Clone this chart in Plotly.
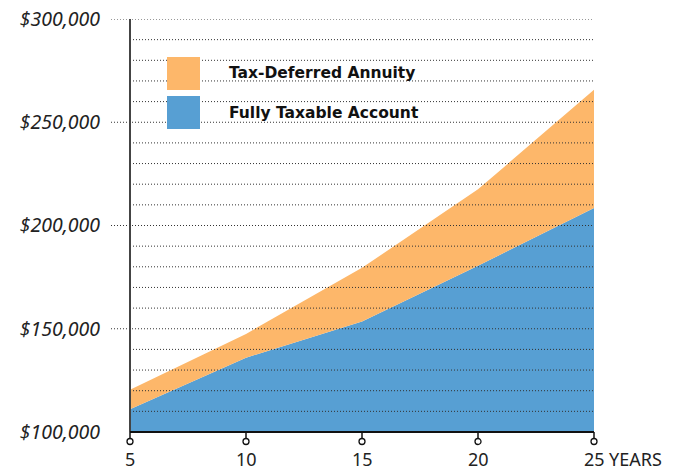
import numpy as np
import plotly.graph_objects as go

years = [5, 10, 15, 20, 25]
taxable = [111000, 136000, 153500, 180500, 208500]
annuity = [120500, 147500, 179500, 217500, 265700]
series_names = ["Tax-Deferred Annuity", "Fully Taxable Account"]
colors = {"Tax-Deferred Annuity": "#FDB76A", "Fully Taxable Account": "#579FD3"}
y_ticks = [100000, 150000, 200000, 250000, 300000]
y_tick_labels = ["$100,000", "$150,000", "$200,000", "$250,000", "$300,000"]
x_tick_labels = ["5", "10", "15", "20", "25"]

W, H = 685, 470
L, R, T, B = 130, 91, 19, 38
pw = W - L - R
ph = H - T - B
x_min, x_max = years[0], years[-1]

fig = go.Figure()
fig.add_trace(go.Scatter(x=years, y=taxable, mode="lines", line=dict(width=0, color=colors["Fully Taxable Account"]),
                         fill="tozeroy", fillcolor=colors["Fully Taxable Account"], name=series_names[1],
                         hoverinfo="skip"))
fig.add_trace(go.Scatter(x=years, y=annuity, mode="lines", line=dict(width=0, color=colors["Tax-Deferred Annuity"]),
                         fill="tonexty", fillcolor=colors["Tax-Deferred Annuity"], name=series_names[0],
                         hoverinfo="skip"))

shapes = []
# dotted gridlines above the areas
grid_vals = np.arange(110000, 300001, 10000)
for v in grid_vals:
    x0 = -19 / pw if v in y_ticks else 0
    shapes.append(dict(type="line", xref="paper", yref="y", x0=x0, x1=1, y0=v, y1=v,
                       line=dict(color="#333333", width=1, dash="1px,2px"), layer="above"))
# axes
shapes.append(dict(type="line", xref="paper", yref="paper", x0=0, x1=0, y0=0, y1=1,
                   line=dict(color="#444444", width=2), layer="above"))
shapes.append(dict(type="line", xref="paper", yref="paper", x0=0, x1=1, y0=0, y1=0,
                   line=dict(color="#111111", width=2), layer="above"))
# x ticks with circle ends (paper x derived from the axis range)
for yr in years:
    px = (yr - x_min) / (x_max - x_min)
    shapes.append(dict(type="line", xref="paper", yref="paper", x0=px, x1=px, y0=0, y1=-7 / ph,
                       line=dict(color="#111111", width=1.5), layer="above"))
    shapes.append(dict(type="circle", xref="paper", yref="paper", xsizemode="pixel", ysizemode="pixel",
                       xanchor=px, yanchor=-9.5 / ph, x0=-3, x1=3, y0=-3, y1=3,
                       line=dict(color="#111111", width=1.3), fillcolor="white", layer="above"))

# manual legend
annotations = []
legend_rows = [(series_names[0], 57, 90), (series_names[1], 96, 129)]
for name, ya, yb in legend_rows:
    shapes.append(dict(type="rect", xref="paper", yref="paper",
                       x0=(167 - L) / pw, x1=(200 - L) / pw,
                       y0=1 - (yb - T) / ph, y1=1 - (ya - T) / ph,
                       fillcolor=colors[name], line=dict(width=0), layer="above"))
    annotations.append(dict(xref="paper", yref="paper", x=(227 - L) / pw, y=1 - ((ya + yb) / 2 - T) / ph,
                            text=name, showarrow=False, xanchor="left", yanchor="middle",
                            font=dict(family="DejaVu Sans", size=15.5, color="#111111", weight="bold")))

# x tick labels as annotations so they sit exactly
for yr, lab in zip(years, x_tick_labels):
    annotations.append(dict(xref="x", yref="paper", x=yr, y=-27 / ph, text=lab, showarrow=False,
                            xanchor="center", yanchor="middle",
                            font=dict(family="Noto Sans", size=18, color="#222222")))
annotations.append(dict(xref="x", yref="paper", x=years[-1], y=-27 / ph, xshift=13, text="YEARS",
                        showarrow=False, xanchor="left", yanchor="middle",
                        font=dict(family="Noto Sans", size=18, color="#222222")))

fig.update_layout(
    width=W, height=H,
    margin=dict(l=L, r=R, t=T, b=B, autoexpand=False),
    paper_bgcolor="white", plot_bgcolor="white",
    showlegend=False,
    shapes=shapes, annotations=annotations,
    xaxis=dict(range=[x_min, x_max], tickvals=years, showticklabels=False,
               showgrid=False, zeroline=False, showline=False, ticks="", automargin=False),
    yaxis=dict(range=[100000, 300000], tickvals=y_ticks, ticktext=y_tick_labels,
               showgrid=False, zeroline=False, showline=False, ticks="", automargin=False,
               ticklabelstandoff=29,
               tickfont=dict(family="Noto Sans", size=19.5, color="#222222", style="italic")),
)

fig.write_html("out.html")
